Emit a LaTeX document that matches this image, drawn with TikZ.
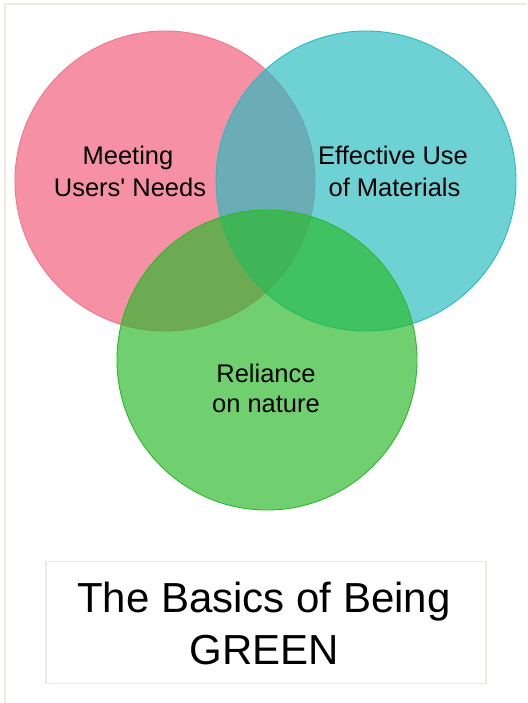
\documentclass[tikz,border=0pt]{standalone}
\usepackage{fontspec}
\setmainfont{Liberation Sans}
\definecolor{framec}{RGB}{238,236,225}
\definecolor{pinkc}{RGB}{243,91,121}
\definecolor{cyanc}{RGB}{39,188,191}
\definecolor{greenc}{RGB}{42,185,42}
\begin{document}
\begin{tikzpicture}[x=1pt,y=-1pt,
  venn/.style={circle,minimum size=300pt,inner sep=0pt,fill opacity=0.67,line width=0.9pt},
  lbl/.style={anchor=base,inner sep=0pt,font=\fontsize{25.5}{31}\selectfont},
  ttl/.style={anchor=base,inner sep=0pt,font=\fontsize{42}{51}\selectfont}]
\useasboundingbox (0,0) rectangle (527,703);
\fill[white] (0,0) rectangle (527,703);
\draw[framec,line width=1.5pt] (5,703) -- (5,4) -- (527,4);
\node[venn,fill=pinkc,draw=pinkc!85!white] (pink) at (165,181) {};
\node[venn,fill=cyanc,draw=cyanc] (cyan) at (366,181) {};
\node[venn,fill=greenc,draw=greenc] (green) at (267,360) {};
\node[lbl] (m1) at (128,164.5) {Meeting};
\node[lbl] (m2) at (130,196.5) {Users\textquotesingle{} Needs};
\node[lbl] (e1) at (393,165) {Effective Use};
\node[lbl] (e2) at (394.5,196.5) {of Materials};
\node[lbl] (r1) at (266,382) {Reliance};
\node[lbl] (r2) at (266,412) {on nature};
\node[draw=framec,line width=1.5pt,minimum width=440pt,minimum height=122pt,inner sep=0pt] (box) at (266,622.5) {};
\node[ttl] (t1) at (264,612.7) {The Basics of Being};
\node[ttl] (t2) at (264,664) {GREEN};
\end{tikzpicture}
\end{document}
